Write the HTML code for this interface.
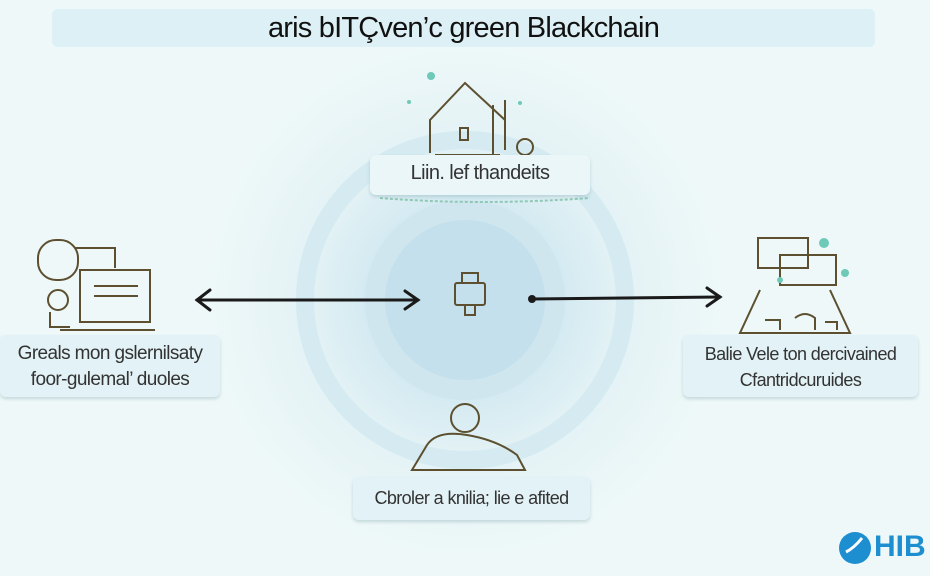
<!DOCTYPE html>
<html><head><meta charset="utf-8"><style>
body{margin:0;width:930px;height:576px;overflow:hidden;background:#eef8f8;font-family:"Liberation Sans",sans-serif;position:relative}
.box{position:absolute;background:#e3f2f6;border-radius:6px;box-shadow:0 2px 3px rgba(120,160,170,.35);color:#333;text-align:center;font-size:19px;letter-spacing:-0.6px}
</style></head><body>
<svg width="930" height="576" style="position:absolute;left:0;top:0">
<defs><radialGradient id="g" cx="465" cy="300" r="260" gradientUnits="userSpaceOnUse">
<stop offset="0" stop-color="#c6e2ee"/><stop offset="0.35" stop-color="#d2e9f1"/><stop offset="0.6" stop-color="#e3f2f5"/><stop offset="1" stop-color="#eef8f8"/></radialGradient></defs>
<circle cx="465" cy="300" r="260" fill="url(#g)"/>
<circle cx="465" cy="300" r="160" fill="none" stroke="#d5eaf1" stroke-width="18"/>
<circle cx="465" cy="300" r="100" fill="#cfe6ef"/>
<circle cx="465" cy="300" r="80" fill="#c4e0ec"/>
<g fill="none" stroke="#1a1a1a" stroke-width="3" stroke-linecap="round">
<line x1="197" y1="300" x2="418" y2="300"/><polyline points="210,290 197,300 210,310"/><polyline points="405,291 418,300 405,309"/>
<line x1="532" y1="299" x2="720" y2="297"/><polyline points="707,288 720,297 707,306"/>
</g><circle cx="532" cy="299" r="4" fill="#1a1a1a"/>
<g fill="none" stroke="#5c5030" stroke-width="2">
<polyline points="430,153 430,120 465,83 505,120"/><line x1="435" y1="155" x2="500" y2="155"/><line x1="493" y1="105" x2="493" y2="155"/><rect x="460" y="128" width="8" height="12"/>
<path d="M505 100 v50"/><circle cx="525" cy="147" r="8"/>
<rect x="455" y="283" width="30" height="22" rx="2"/><path d="M462 283 v-10 h16 v10 M465 305 v10 h10 v-10"/>
<rect x="38" y="240" width="40" height="40" rx="18"/><rect x="80" y="270" width="70" height="52"/><line x1="94" y1="286" x2="138" y2="286"/><line x1="94" y1="296" x2="138" y2="296"/><path d="M75 248 h40 v20 M60 330 h95"/>
<circle cx="58" cy="300" r="10"/><path d="M50 312 v15 h20"/>
<path d="M758 238 h50 v30 h-50z M780 255 h56 v30 h-56z M760 290 l-20 43 h110 l-20 -43"/>
<path d="M765 320 h15 v10 M795 318 q10 -8 20 0 v12 M825 322 h12 v8"/>
<path d="M412 470 l15 -25 q10 -15 40 -10 q30 5 50 20 l8 15z"/><circle cx="465" cy="418" r="14"/>
</g>
<g fill="#6fc9b8"><circle cx="431" cy="76" r="4"/><circle cx="409" cy="102" r="2"/><circle cx="520" cy="103" r="2"/><circle cx="824" cy="243" r="5"/><circle cx="845" cy="273" r="4"/><circle cx="780" cy="280" r="3"/></g>
<path d="M380 198 q100 8 210 0" stroke="#8fc9b5" stroke-width="2" fill="none" stroke-dasharray="3 2"/>
<circle cx="855" cy="548" r="16" fill="#1d8fd0"/><path d="M846 552 q8 -4 16 -14" stroke="#fff" stroke-width="3" fill="none"/>
</svg>
<div class="box" style="left:52px;top:9px;width:823px;height:38px;line-height:38px;font-size:29px;color:#111;background:#dcf0f5;box-shadow:none;letter-spacing:-0.8px">aris bITÇven’c green Blackchain</div>
<div class="box" style="left:370px;top:155px;width:220px;height:40px;line-height:36px;font-size:20px;background:#eaf6f8">Liin. lef thandeits</div>
<div class="box" style="left:0;top:335px;width:220px;height:62px;line-height:26px;padding-top:6px;box-sizing:border-box">Greals mon gslernilsaty<br>foor-gulemal’ duoles</div>
<div class="box" style="left:683px;top:335px;width:235px;height:62px;line-height:26px;padding-top:6px;box-sizing:border-box;font-size:18px">Balie Vele ton dercivained<br>Cfantridcuruides</div>
<div class="box" style="left:353px;top:477px;width:237px;height:43px;line-height:43px;font-size:18px">Cbroler a knilia; lie e afited</div>
<div style="position:absolute;left:874px;top:530px;font-size:30px;font-weight:bold;color:#1d8fd0">HIB</div>
</body></html>
